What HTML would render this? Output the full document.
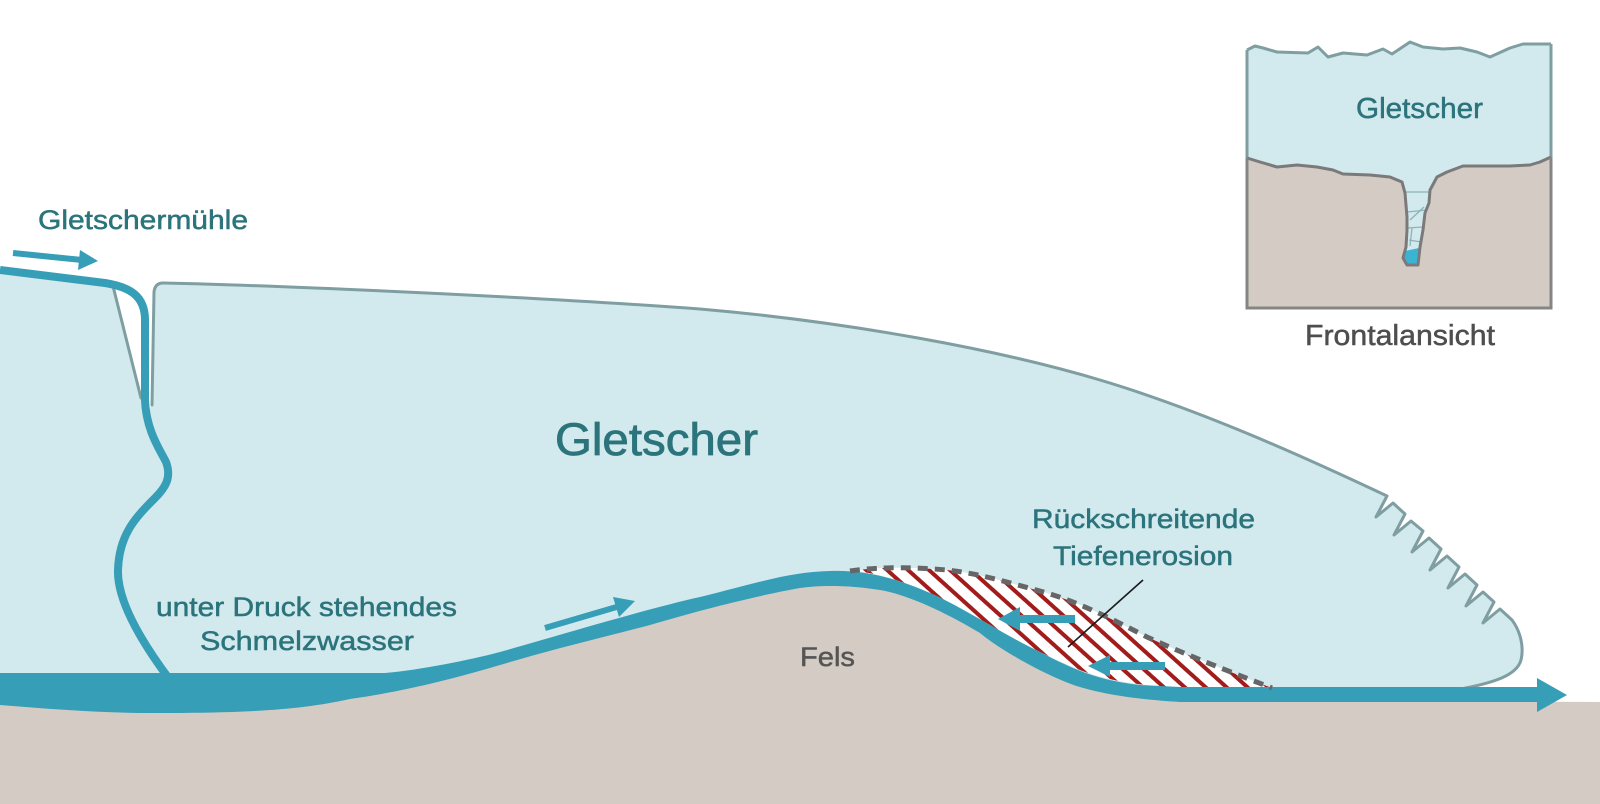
<!DOCTYPE html>
<html>
<head>
<meta charset="utf-8">
<style>
  html, body { margin: 0; padding: 0; background: #ffffff; }
  svg { display: block; }
  .t { font-family: "Liberation Sans", "DejaVu Sans", sans-serif; fill: #2c747c; stroke: #2c747c; stroke-width: 0.5; }
  .g { font-family: "Liberation Sans", "DejaVu Sans", sans-serif; fill: #4e4e4e; stroke: #4e4e4e; stroke-width: 0.5; }
</style>
</head>
<body>
<svg width="1600" height="804" viewBox="0 0 1600 804" xmlns="http://www.w3.org/2000/svg">
  <defs>
    <pattern id="hatch" width="14" height="14" patternUnits="userSpaceOnUse" patternTransform="rotate(-48)">
      <rect width="14" height="14" fill="#ffffff"/>
      <rect x="0" y="0" width="4" height="14" fill="#a21c1c"/>
    </pattern>
  </defs>

  <rect x="0" y="0" width="1600" height="804" fill="#ffffff"/>

  <!-- Ice body -->
  <path d="M0,268 L113,286 L140,398 L146,412 L152,405 L154,292 Q155,283 163,283 C300,286 550,298 700,309 C850,322 1000,350 1100,380 C1200,410 1300,455 1387,496 L1376,517 L1393,503 L1405,514 L1394,535 L1411,521 L1423,531 L1412,552 L1429,538 L1441,549 L1430,570 L1447,556 L1459,567 L1448,588 L1465,574 L1477,585 L1466,606 L1483,592 L1494,602 L1483,623 L1500,609 L1512,620 C1521,632 1524,648 1521,660 C1517,675 1495,683 1460,688 L1460,700 L0,700 Z" fill="#d2e9ed"/>

  <!-- Rock -->
  <path d="M0,702 C50,707 100,711 150,711 C250,711 300,708 350,697 C400,690 450,678 500,663 C550,648 600,636 650,623 C700,608 760,593 800,586 C820,583 850,583 880,588 C910,593 950,613 980,631 C1000,648 1050,676 1080,685 C1100,691 1130,697 1180,700 L1600,702 L1600,804 L0,804 Z" fill="#d3cbc4"/>

  <!-- Ice outline -->
  <path d="M152,405 L154,292 Q155,283 163,283 C300,286 550,298 700,309 C850,322 1000,350 1100,380 C1200,410 1300,455 1387,496 L1376,517 L1393,503 L1405,514 L1394,535 L1411,521 L1423,531 L1412,552 L1429,538 L1441,549 L1430,570 L1447,556 L1459,567 L1448,588 L1465,574 L1477,585 L1466,606 L1483,592 L1494,602 L1483,623 L1500,609 L1512,620 C1521,632 1524,648 1521,660 C1517,675 1495,683 1455,690" fill="none" stroke="#7f9ea1" stroke-width="3" stroke-linejoin="round" stroke-linecap="round"/>
  <path d="M113,286 L141,398" fill="none" stroke="#7f9ea1" stroke-width="3" stroke-linecap="round"/>

  <!-- Hatched erosion area -->
  <path d="M850,571 C870,568 900,566 947,570 C975,573 1000,580 1047,593 C1080,603 1110,618 1147,637 C1180,652 1220,668 1272,688 L1180,688 C1130,685 1100,678 1080,670 C1060,662 1040,652 1030,647 C1000,632 960,606 930,593 C900,580 870,571 850,571 Z" fill="url(#hatch)"/>

  <!-- Moulin water line -->
  <path d="M0,270 L105,283 C130,287 145,296 145,320 L145,400 C146,430 160,450 166,462 C172,478 165,488 155,498 C135,518 119,535 118,570 C117,600 140,640 170,680" fill="none" stroke="#369eb6" stroke-width="8" stroke-linecap="butt" stroke-linejoin="round"/>

  <!-- Water band -->
  <path d="M0,673 L385,673 C420,670 470,660 500,652 C560,635 650,608 700,597 C760,582 790,572 830,571 C870,570 900,580 930,593 C960,606 1000,632 1030,647 C1060,662 1090,680 1140,685 L1180,687 L1537,687 L1537,678 L1567,695 L1537,712 L1537,702 L1180,702 C1130,699 1100,693 1080,687 C1050,678 1000,650 980,633 C950,615 910,595 880,590 C850,585 820,585 800,588 C760,595 700,610 650,625 C600,638 550,650 500,665 C450,680 400,692 350,699 C300,710 250,713 150,713 C100,713 50,709 0,705 Z" fill="#369eb6"/>

  <!-- Dashed erosion boundary -->
  <path d="M850,571 C870,568 900,566 947,570 C975,573 1000,580 1047,593 C1080,603 1110,618 1147,637 C1180,652 1220,668 1272,688" fill="none" stroke="#666666" stroke-width="5" stroke-dasharray="10 7"/>

  <!-- Arrows -->
  <line x1="13" y1="253" x2="82" y2="260" stroke="#369eb6" stroke-width="6"/>
  <polygon points="80,250 98,261 78,270" fill="#369eb6"/>

  <line x1="545" y1="628" x2="620" y2="606" stroke="#369eb6" stroke-width="6"/>
  <polygon points="635,601 613,597 619,617" fill="#369eb6"/>

  <line x1="1018" y1="619" x2="1075" y2="619" stroke="#369eb6" stroke-width="8"/>
  <polygon points="998,619 1020,607 1020,631" fill="#369eb6"/>

  <line x1="1108" y1="666" x2="1165" y2="666" stroke="#369eb6" stroke-width="8"/>
  <polygon points="1088,666 1110,655 1110,677" fill="#369eb6"/>

  <!-- Leader line -->
  <line x1="1143" y1="580" x2="1068" y2="647" stroke="#1a1a1a" stroke-width="1.6"/>

  <!-- Main labels -->
  <text class="t" x="38" y="229" font-size="26.5" textLength="210" lengthAdjust="spacingAndGlyphs">Gletschermühle</text>
  <text class="t" x="555" y="455" font-size="45" textLength="203" lengthAdjust="spacingAndGlyphs" style="stroke-width:0.8">Gletscher</text>
  <text class="t" x="156" y="616" font-size="27" textLength="301" lengthAdjust="spacingAndGlyphs">unter Druck stehendes</text>
  <text class="t" x="200" y="650" font-size="27" textLength="214" lengthAdjust="spacingAndGlyphs">Schmelzwasser</text>
  <text class="g" x="800" y="666" font-size="27" textLength="55" lengthAdjust="spacingAndGlyphs" style="fill:#555555;stroke:#555555">Fels</text>
  <text class="t" x="1032" y="528" font-size="27" textLength="223" lengthAdjust="spacingAndGlyphs">Rückschreitende</text>
  <text class="t" x="1053" y="565" font-size="27" textLength="180" lengthAdjust="spacingAndGlyphs">Tiefenerosion</text>

  <!-- Inset: Frontalansicht -->
  <path d="M1247,50 L1255,46 L1263,48 L1277,52 L1308,53 L1318,47 L1328,57 L1343,53 L1367,55 L1383,49 L1392,54 L1410,42 L1423,47 L1443,49 L1460,48 L1477,52 L1490,57 L1510,48 L1523,44 L1551,44 L1551,157 L1540,162 L1530,165 L1510,166 L1463,166 L1447,172 L1437,177 L1430,190 L1429,203 L1425,213 L1423,230 L1420,247 L1418,265 L1407,265 L1403,258 L1406,247 L1407,230 L1407,217 L1405,193 L1402,182 L1390,177 L1370,175 L1343,174 L1333,170 L1317,167 L1297,165 L1277,167 L1260,162 L1247,158 Z" fill="#d2e9ed"/>
  <path d="M1247,158 L1260,162 L1277,167 L1297,165 L1317,167 L1333,170 L1343,174 L1370,175 L1390,177 L1402,182 L1405,193 L1407,217 L1407,230 L1406,247 L1403,258 L1407,265 L1418,265 L1420,247 L1423,230 L1425,213 L1429,203 L1430,190 L1437,177 L1447,172 L1463,166 L1510,166 L1530,165 L1540,162 L1551,157 L1551,308 L1247,308 Z" fill="#d3cbc4"/>
  <!-- channel cracks -->
  <g stroke="#8fb3b8" stroke-width="1.3" fill="none">
    <line x1="1405" y1="192" x2="1430" y2="192"/>
    <line x1="1407" y1="212" x2="1427" y2="210"/>
    <line x1="1407" y1="228" x2="1423" y2="227"/>
    <line x1="1410" y1="220" x2="1424" y2="207"/>
    <line x1="1409" y1="240" x2="1421" y2="242"/>
    <line x1="1412" y1="228" x2="1410" y2="246"/>
  </g>
  <polygon points="1405,251 1419,248 1418,264 1408,265 1403,258" fill="#3ab4d2"/>
  <!-- inset outlines -->
  <path d="M1247,50 L1255,46 L1263,48 L1277,52 L1308,53 L1318,47 L1328,57 L1343,53 L1367,55 L1383,49 L1392,54 L1410,42 L1423,47 L1443,49 L1460,48 L1477,52 L1490,57 L1510,48 L1523,44 L1551,44" fill="none" stroke="#7f9ea1" stroke-width="3" stroke-linejoin="round"/>
  <path d="M1247,50 L1247,158 M1551,44 L1551,157" fill="none" stroke="#7f9ea1" stroke-width="3"/>
  <path d="M1247,158 L1260,162 L1277,167 L1297,165 L1317,167 L1333,170 L1343,174 L1370,175 L1390,177 L1402,182 L1405,193 L1407,217 L1407,230 L1406,247 L1403,258 L1407,265 L1418,265 L1420,247 L1423,230 L1425,213 L1429,203 L1430,190 L1437,177 L1447,172 L1463,166 L1510,166 L1530,165 L1540,162 L1551,157" fill="none" stroke="#7a7a7a" stroke-width="3" stroke-linejoin="round"/>
  <path d="M1247,158 L1247,308 L1551,308 L1551,157" fill="none" stroke="#858585" stroke-width="3"/>

  <text class="t" x="1356" y="118" font-size="29" textLength="127" lengthAdjust="spacingAndGlyphs">Gletscher</text>
  <text class="g" x="1305" y="345" font-size="29" textLength="190" lengthAdjust="spacingAndGlyphs">Frontalansicht</text>
</svg>
</body>
</html>
